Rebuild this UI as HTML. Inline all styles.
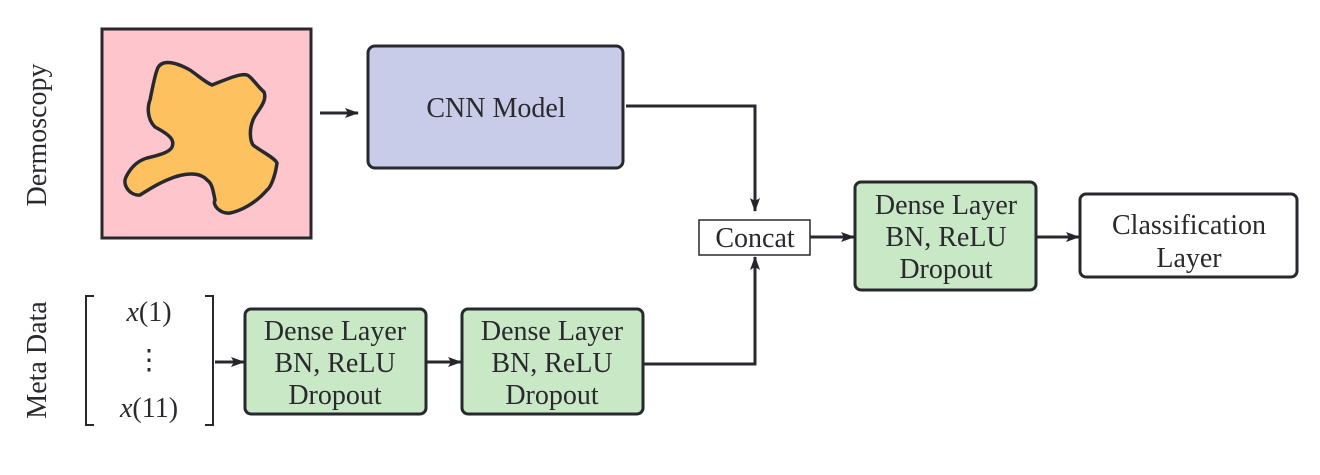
<!DOCTYPE html>
<html><head><meta charset="utf-8"><style>
html,body{margin:0;padding:0;background:#fff;}
svg{display:block;}
</style></head><body>
<svg width="1320" height="475" viewBox="0 0 1320 475" xmlns="http://www.w3.org/2000/svg">
<defs>
<marker id="ah" markerWidth="14" markerHeight="10" refX="13" refY="5" orient="auto" markerUnits="userSpaceOnUse">
<path d="M0,0 L14,5 L0,10 L3,5 Z" fill="#24252b"/></marker>
</defs>
<g stroke="#28292f" fill="none">
<rect x="102" y="29" width="209" height="209" fill="#fec5cc" stroke-width="3"/>
<path d="M157,70 C160,60 172,60 190,70 C200,77 205,82 212,85 C225,80 240,73 247,75 C252,77 256,85 264,92 C268,102 256,112 253,120 C249,130 250,140 253,145 C262,152 275,158 277,163 C275,178 270,188 267,190 C255,204 240,211 230,213 C220,214 212,205 215,200 C213,190 212,183 207,180 C200,172 185,172 167,180 C155,185 145,192 140,195 C130,196 122,185 126,177 C132,165 140,160 147,158 C160,155 170,152 172,147 C175,140 170,135 155,127 C146,118 148,105 150,100 C152,90 155,75 157,70 Z" fill="#fdc25f" stroke-width="3.5"/>
<rect x="368" y="46" width="255" height="122" rx="7" fill="#c8cce8" stroke-width="3"/>
<rect x="699" y="220" width="111" height="35" fill="#fff" stroke-width="1.5"/>
<rect x="855" y="182" width="181" height="108" rx="6" fill="#c9e8c6" stroke-width="3"/>
<rect x="1080" y="194" width="217" height="83" rx="6" fill="#fff" stroke-width="3"/>
<rect x="245" y="309" width="181" height="105" rx="6" fill="#c9e8c6" stroke-width="3"/>
<rect x="462" y="309" width="181" height="105" rx="6" fill="#c9e8c6" stroke-width="3"/>
<path d="M94,296 L86,296 L86,425 L94,425" stroke-width="2"/>
<path d="M205,296 L213,296 L213,425 L205,425" stroke-width="2"/>
<g stroke-width="3">
<line x1="320" y1="113" x2="358" y2="113" marker-end="url(#ah)"/>
<polyline points="626,106 755,106 755,211" marker-end="url(#ah)"/>
<polyline points="643,364 755,364 755,257" marker-end="url(#ah)"/>
<line x1="810" y1="237" x2="854" y2="237" marker-end="url(#ah)"/>
<line x1="1036" y1="237" x2="1079" y2="237" marker-end="url(#ah)"/>
<line x1="215" y1="362" x2="244" y2="362" marker-end="url(#ah)"/>
<line x1="426" y1="362" x2="461" y2="362" marker-end="url(#ah)"/>
</g>
</g>
<g font-family="'Liberation Serif', 'DejaVu Serif', serif" font-size="28" text-anchor="middle" fill="#2a2a2e">
<text transform="translate(46,135) rotate(-90)">Dermoscopy</text>
<text transform="translate(46,360) rotate(-90)">Meta Data</text>
<text x="496" y="117">CNN Model</text>
<text x="755" y="247">Concat</text>
<text x="946" y="214">Dense Layer</text>
<text x="946" y="246">BN, ReLU</text>
<text x="946" y="278">Dropout</text>
<text x="1189" y="234">Classification</text>
<text x="1189" y="267">Layer</text>
<text x="335" y="340">Dense Layer</text>
<text x="335" y="372">BN, ReLU</text>
<text x="335" y="404">Dropout</text>
<text x="552" y="340">Dense Layer</text>
<text x="552" y="372">BN, ReLU</text>
<text x="552" y="404">Dropout</text>
<text x="149" y="321"><tspan font-style="italic">x</tspan>(1)</text>
<text x="149" y="369">⋮</text>
<text x="149" y="417"><tspan font-style="italic">x</tspan>(11)</text>
</g>
</svg>
</body></html>
